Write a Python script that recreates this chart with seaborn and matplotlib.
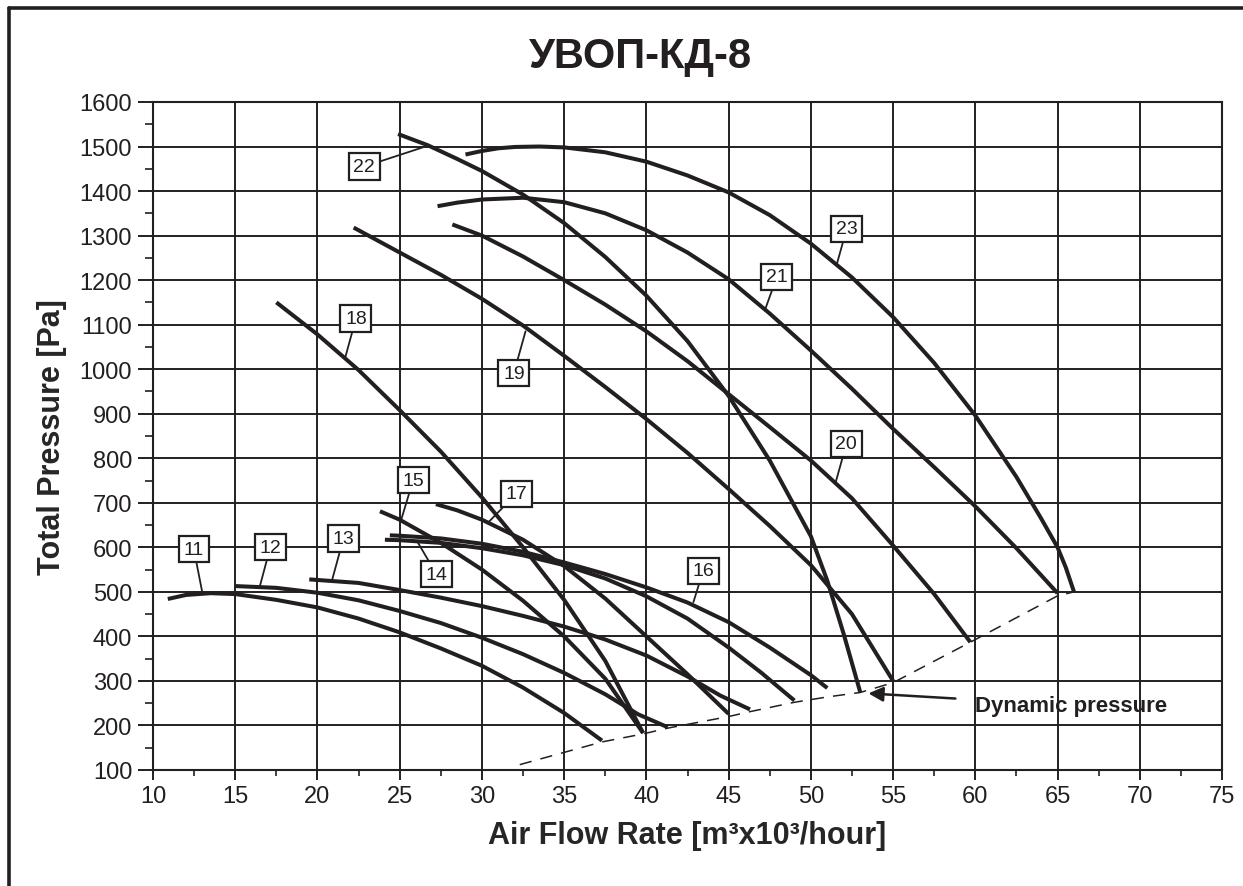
import pandas as pd
import seaborn as sns
import matplotlib.pyplot as plt
from matplotlib.lines import Line2D
from matplotlib.ticker import MultipleLocator

# 1. Datos (caudal en miles de m3/h, presion en Pa)
flow_11 = [10.9, 12.0, 13.5, 15.0, 17.5, 20.0, 22.5, 25.0, 27.5, 30.0, 32.5, 35.0, 37.3]
pres_11 = [484, 493, 497, 495, 482, 465, 440, 409, 373, 334, 285, 228, 166]

flow_12 = [15.0, 17.5, 20.0, 22.5, 25.0, 27.5, 30.0, 32.5, 35.0, 37.5, 39.5, 41.3]
pres_12 = [513, 509, 498, 481, 457, 430, 397, 360, 318, 270, 225, 196]

flow_13 = [19.5, 22.5, 25.0, 27.5, 30.0, 32.5, 35.0, 37.5, 40.0, 42.5, 44.5, 46.3]
pres_13 = [528, 520, 504, 487, 468, 446, 422, 393, 357, 310, 267, 236]

flow_14 = [24.1, 25.0, 27.5, 30.0, 32.5, 35.0, 37.5, 40.0, 42.5, 45.0, 47.0, 49.0]
pres_14 = [617, 616, 610, 598, 582, 560, 530, 490, 440, 375, 318, 256]

flow_15 = [23.8, 25.0, 27.5, 30.0, 32.5, 35.0, 37.5, 39.8]
pres_15 = [681, 662, 610, 550, 480, 400, 305, 183]

flow_16 = [24.4, 25.0, 27.5, 30.0, 32.5, 35.0, 37.5, 40.0, 42.5, 45.0, 47.5, 50.0, 51.0]
pres_16 = [627, 626, 620, 608, 590, 566, 540, 510, 476, 432, 375, 313, 284]

flow_17 = [27.2, 28.5, 30.0, 32.5, 35.0, 37.5, 40.0, 42.5, 45.0]
pres_17 = [697, 683, 662, 617, 558, 485, 400, 315, 226]

flow_18 = [17.5, 20.0, 22.5, 25.0, 27.5, 30.0, 32.5, 35.0, 37.5, 39.8]
pres_18 = [1150, 1078, 998, 908, 815, 712, 600, 482, 345, 183]

flow_19 = [22.2, 25.0, 27.5, 30.0, 32.5, 35.0, 37.5, 40.0, 42.5, 45.0, 47.5, 50.0, 52.5, 55.0]
pres_19 = [1318, 1262, 1212, 1158, 1098, 1030, 960, 888, 812, 731, 648, 560, 450, 300]

flow_20 = [28.2, 30.0, 32.5, 35.0, 37.5, 40.0, 42.5, 45.0, 47.5, 50.0, 52.5, 55.0, 57.5, 59.7]
pres_20 = [1325, 1300, 1253, 1200, 1145, 1085, 1018, 944, 870, 795, 710, 604, 495, 387]

flow_21 = [27.3, 28.5, 30.0, 32.5, 35.0, 37.5, 40.0, 42.5, 45.0, 47.5, 50.0, 52.5, 55.0,
           57.5, 60.0, 62.5, 65.0]
pres_21 = [1366, 1374, 1381, 1385, 1375, 1350, 1312, 1262, 1202, 1125, 1042, 956, 866,
           780, 692, 598, 497]

flow_22 = [24.9, 26.7, 28.5, 30.0, 32.5, 35.0, 37.5, 40.0, 42.5, 45.0, 47.5, 50.0, 51.0,
           52.0, 53.0]
pres_22 = [1528, 1503, 1472, 1445, 1392, 1328, 1252, 1165, 1063, 940, 795, 625, 525,
           405, 275]

flow_23 = [29.0, 30.0, 31.0, 32.0, 33.5, 35.0, 37.5, 40.0, 42.5, 45.0, 47.5, 50.0, 52.5,
           55.0, 57.5, 60.0, 62.5, 64.0, 65.0, 65.5, 66.0]
pres_23 = [1482, 1490, 1496, 1499, 1500, 1498, 1487, 1466, 1435, 1397, 1346, 1282, 1206,
           1117, 1014, 896, 758, 665, 600, 555, 500]

# linea de presion dinamica (discontinua)
dyn_flow = [32.3, 37.3, 39.8, 41.3, 45.0, 46.3, 49.0, 51.0, 53.0, 55.0, 59.7, 65.0, 66.0]
dyn_pres = [112, 163, 181, 194, 220, 231, 252, 264, 274, 296, 387, 491, 500]

curves = {
    11: (flow_11, pres_11), 12: (flow_12, pres_12), 13: (flow_13, pres_13),
    14: (flow_14, pres_14), 15: (flow_15, pres_15), 16: (flow_16, pres_16),
    17: (flow_17, pres_17), 18: (flow_18, pres_18), 19: (flow_19, pres_19),
    20: (flow_20, pres_20), 21: (flow_21, pres_21), 22: (flow_22, pres_22),
    23: (flow_23, pres_23),
}

df = pd.concat(
    [pd.DataFrame({'curve': k, 'flow': f, 'pressure': p}) for k, (f, p) in curves.items()],
    ignore_index=True,
)

# posicion de las etiquetas: (centro de la caja, punto de la curva)
label_pos = {
    11: ((12.48, 596), (12.99, 500)),
    12: ((17.13, 600), (16.50, 513)),
    13: ((21.58, 620), (20.90, 528)),
    14: ((27.23, 540), (26.10, 611)),
    15: ((25.82, 751), (25.10, 663)),
    16: ((43.45, 547), (42.86, 477)),
    17: ((32.08, 720), (30.36, 655)),
    18: ((22.34, 1114), (21.68, 1025)),
    19: ((31.94, 991), (32.65, 1085)),
    20: ((52.16, 832), (51.51, 746)),
    21: ((47.93, 1207), (47.20, 1132)),
    22: ((22.85, 1455), (26.73, 1502)),
    23: ((52.18, 1315), (51.58, 1236)),
}

INK = '#231f20'

# 2. Estilo
sns.set_theme(style="ticks")
plt.rcParams['font.family'] = ['Liberation Sans', 'DejaVu Sans']
plt.rcParams['axes.edgecolor'] = INK
plt.rcParams['xtick.color'] = INK
plt.rcParams['ytick.color'] = INK
plt.rcParams['text.color'] = INK

fig = plt.figure(figsize=(12.43, 8.87), dpi=100)
ax = fig.add_axes([0.1231, 0.1308, 0.8600, 0.7531])

# 3. Curvas
sns.lineplot(data=df, x='flow', y='pressure', units='curve', estimator=None, sort=False,
             color=INK, lw=2.9, solid_capstyle='butt', solid_joinstyle='round',
             ax=ax, zorder=3)
sns.lineplot(x=dyn_flow, y=dyn_pres, estimator=None, sort=False, color=INK, lw=1.1,
             linestyle=(0, (8, 6)), ax=ax, zorder=2)

# 4. Ejes y rejilla
ax.set_xlim(10, 75)
ax.set_ylim(100, 1600)
ax.xaxis.set_major_locator(MultipleLocator(5))
ax.xaxis.set_minor_locator(MultipleLocator(2.5))
ax.yaxis.set_major_locator(MultipleLocator(100))
ax.yaxis.set_minor_locator(MultipleLocator(50))
ax.grid(True, which='major', color=INK, lw=1.4)
ax.tick_params(axis='x', which='major', direction='out', length=7, width=1.4, pad=4, labelsize=17)
ax.tick_params(axis='x', which='minor', direction='out', length=4.5, width=1.2)
ax.tick_params(axis='y', which='major', direction='out', length=11, width=1.4, pad=4, labelsize=17)
ax.tick_params(axis='y', which='minor', direction='out', length=5.5, width=1.2)
for s in ax.spines.values():
    s.set_linewidth(1.5)
    s.set_color(INK)

ax.set_xlabel('Air Flow Rate [m³x10³/hour]', fontsize=22, fontweight='bold', labelpad=9)
ax.set_ylabel('Total Pressure [Pa]', fontsize=22, fontweight='bold', labelpad=9)
fig.text(0.515, 0.936, 'УВОП-КД-8', fontsize=30, fontweight='bold', ha='center', va='center')

# 5. Etiquetas numeradas
for k, (box, pt) in label_pos.items():
    ax.annotate(str(k), xy=pt, xytext=box, ha='center', va='center', fontsize=14,
                bbox=dict(boxstyle='square,pad=0.24', fc='white', ec=INK, lw=1.6),
                arrowprops=dict(arrowstyle='-', color=INK, lw=1.3, shrinkA=0, shrinkB=0),
                zorder=5)

ax.annotate('Dynamic pressure', xy=(53.5, 272), xytext=(60, 245), ha='left', va='center',
            fontsize=16, fontweight='bold',
            arrowprops=dict(arrowstyle='-|>', color=INK, lw=1.8, mutation_scale=22,
                            shrinkA=12, shrinkB=0),
            zorder=5)

# marco exterior
fig.add_artist(Line2D([9 / 1243, 1.0], [1 - 9 / 887, 1 - 9 / 887],
                      transform=fig.transFigure, color=INK, lw=2.6))
fig.add_artist(Line2D([9 / 1243, 9 / 1243], [0.0, 1 - 9 / 887],
                      transform=fig.transFigure, color=INK, lw=2.6))

# 6. Guardar
fig.savefig('out.png', dpi=100)
